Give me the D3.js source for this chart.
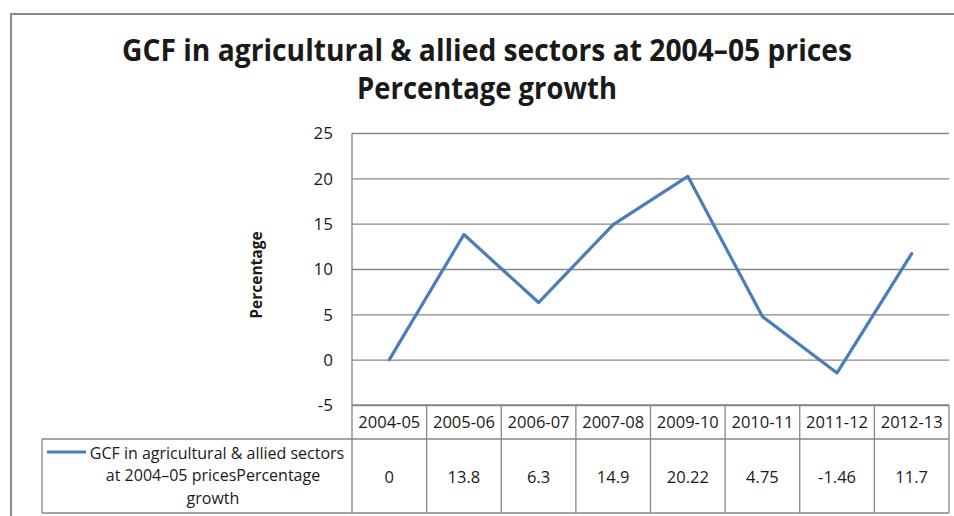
<!DOCTYPE html>
<html>
<head>
<meta charset="utf-8">
<script src="https://cdn.jsdelivr.net/npm/d3@7"></script>
<style>
  html, body { margin: 0; padding: 0; background: #fff; }
  svg { display: block; }
  text { font-family: "Open Sans", "Liberation Sans", sans-serif; fill: #1a1a1a; }
</style>
</head>
<body>
<svg id="chart" width="954" height="516"></svg>
<script>
const categories = ["2004-05", "2005-06", "2006-07", "2007-08", "2009-10", "2010-11", "2011-12", "2012-13"];
const values = [0, 13.8, 6.3, 14.9, 20.22, 4.75, -1.46, 11.7];
const valueLabels = ["0", "13.8", "6.3", "14.9", "20.22", "4.75", "-1.46", "11.7"];
const yTicks = [-5, 0, 5, 10, 15, 20, 25];
const titleLines = ["GCF in agricultural & allied sectors at 2004\u201305 prices", "Percentage growth"];
const seriesName = ["GCF in agricultural & allied sectors", "at 2004\u201305 pricesPercentage", "growth"];
const yTitle = "Percentage";

const svg = d3.select("#chart");
const gridColor = "#868686";
const lineColor = "#4a7ebb";

const plotLeft = 352, plotRight = 949, plotTop = 133, plotBottom = 405;
const x = d3.scaleBand().domain(categories).range([plotLeft, plotRight]).padding(0);
const y = d3.scaleLinear().domain([-5, 25]).range([plotBottom, plotTop]);

// outer frame
svg.append("path")
  .attr("d", "M11,516 L11,14 L954,14")
  .attr("fill", "none").attr("stroke", "#8a8a8a").attr("stroke-width", 2);

// title
svg.selectAll(".title").data(titleLines).enter().append("text")
  .attr("class", "title")
  .attr("x", 487).attr("y", (d, i) => 61 + i * 38)
  .attr("text-anchor", "middle")
  .attr("font-size", 31).attr("font-weight", "bold")
  .attr("textLength", (d, i) => i === 0 ? 730 : 260)
  .attr("lengthAdjust", "spacingAndGlyphs")
  .text(d => d);

// gridlines
const grid = d3.axisLeft(y).tickValues(yTicks).tickSize(-(plotRight - plotLeft)).tickFormat("");
const gg = svg.append("g").attr("transform", `translate(${plotLeft},0)`).call(grid);
gg.select(".domain").remove();
gg.selectAll("line").attr("stroke", gridColor).attr("stroke-width", 1.3);

// y axis labels
const ya = d3.axisLeft(y).tickValues(yTicks).tickSize(0).tickPadding(0).tickFormat(d => String(d));
const yg = svg.append("g").attr("transform", `translate(333,0)`).call(ya);
yg.select(".domain").remove();
yg.selectAll("text").attr("font-size", 17).attr("font-family", "Open Sans").attr("fill", "#1a1a1a").attr("dy", "0.35em");

// y axis line
svg.append("line").attr("x1", plotLeft).attr("x2", plotLeft).attr("y1", plotTop).attr("y2", 513)
  .attr("stroke", gridColor).attr("stroke-width", 1.3);

// y title
svg.append("text")
  .attr("transform", "translate(262,275) rotate(-90)")
  .attr("text-anchor", "middle")
  .attr("font-size", 15.5).attr("font-weight", "bold")
  .text(yTitle);

// line
const line = d3.line().x((d, i) => x(categories[i]) + x.bandwidth() / 2).y(d => y(d));
svg.append("path").datum(values)
  .attr("d", line)
  .attr("fill", "none").attr("stroke", lineColor).attr("stroke-width", 3.2)
  .attr("stroke-linejoin", "round").attr("stroke-linecap", "round");

// data table
const rowTop = 405, rowMid = 439, rowBot = 513, legendLeft = 42;
const tb = svg.append("g").attr("stroke", gridColor).attr("stroke-width", 1.3);
tb.append("line").attr("x1", plotLeft).attr("x2", plotRight).attr("y1", rowTop).attr("y2", rowTop);
tb.append("line").attr("x1", legendLeft).attr("x2", plotRight).attr("y1", rowMid).attr("y2", rowMid);
tb.append("line").attr("x1", legendLeft).attr("x2", plotRight).attr("y1", rowBot).attr("y2", rowBot);
tb.append("line").attr("x1", legendLeft).attr("x2", legendLeft).attr("y1", rowMid).attr("y2", rowBot);
tb.selectAll(".vb").data(categories).enter().append("line")
  .attr("x1", d => x(d) + x.bandwidth()).attr("x2", d => x(d) + x.bandwidth())
  .attr("y1", rowTop).attr("y2", rowBot);

svg.selectAll(".cat").data(categories).enter().append("text")
  .attr("x", d => x(d) + x.bandwidth() / 2).attr("y", (rowTop + rowMid) / 2)
  .attr("dy", "0.35em").attr("text-anchor", "middle").attr("font-size", 16.5)
  .text(d => d);

svg.selectAll(".val").data(valueLabels).enter().append("text")
  .attr("x", (d, i) => x(categories[i]) + x.bandwidth() / 2).attr("y", 477)
  .attr("dy", "0.35em").attr("text-anchor", "middle").attr("font-size", 16.5)
  .text(d => d);

// legend key
svg.append("line").attr("x1", 47).attr("x2", 86).attr("y1", 452).attr("y2", 452)
  .attr("stroke", lineColor).attr("stroke-width", 3.2);
svg.selectAll(".leg").data(seriesName).enter().append("text")
  .attr("x", (d, i) => i === 0 ? 217 : 213).attr("y", (d, i) => 453 + i * 22.5)
  .attr("dy", "0.35em").attr("text-anchor", "middle").attr("font-size", 16)
  .text(d => d);
</script>
</body>
</html>
